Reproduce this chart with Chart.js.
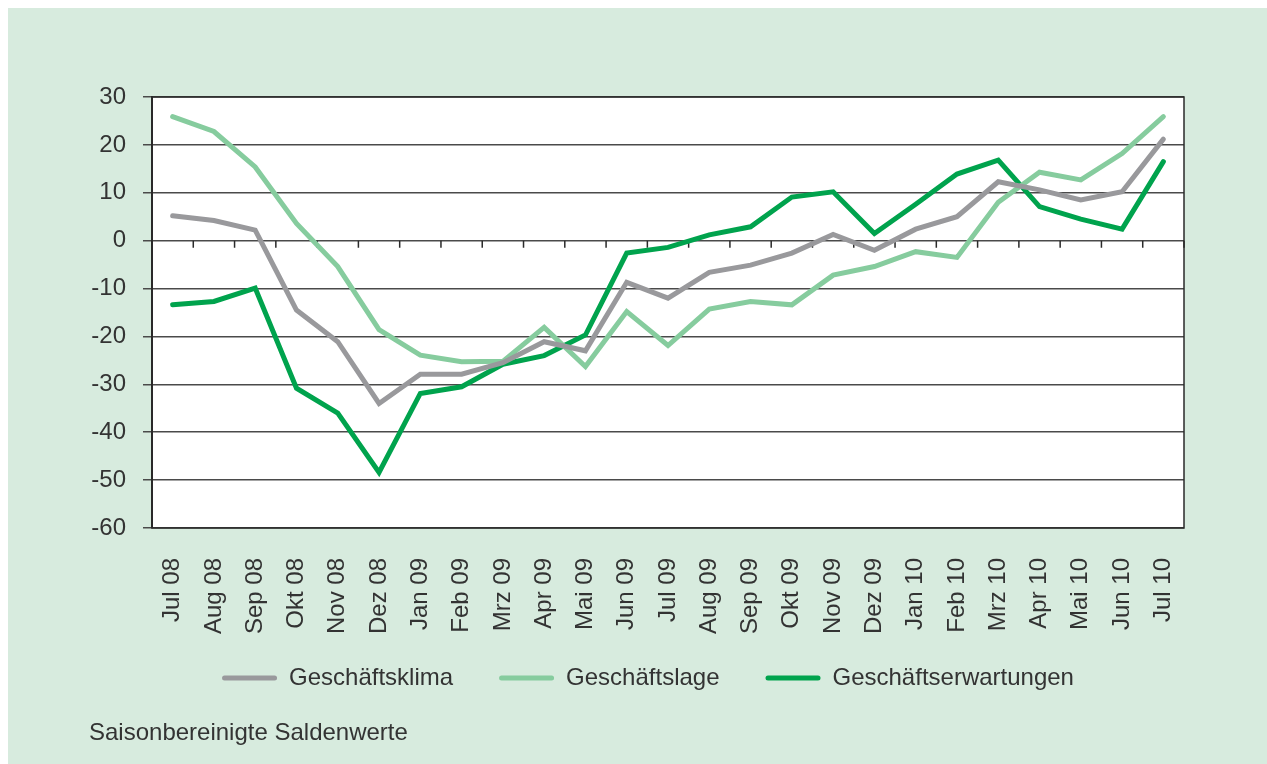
<!DOCTYPE html>
<html><head><meta charset="utf-8">
<script src="https://cdn.jsdelivr.net/npm/chart.js@4"></script>
<style>
html,body{margin:0;padding:0;background:#fff;width:1267px;height:764px;overflow:hidden;}
#panel{position:absolute;left:8px;top:8px;width:1259px;height:756px;background:#d7ebde;}
#wrap{position:absolute;left:0;top:0;width:1259px;height:756px;}
#note{position:absolute;left:81px;top:710px;font:24px "Liberation Sans",Arial,sans-serif;color:#333;line-height:28px;white-space:nowrap;}
</style></head>
<body>
<div id="panel">
  <div id="wrap"><canvas id="c" width="1259" height="756"></canvas></div>
  <div id="note">Saisonbereinigte Saldenwerte</div>
</div>
<script>
const categories = ['Jul 08','Aug 08','Sep 08','Okt 08','Nov 08','Dez 08','Jan 09','Feb 09','Mrz 09','Apr 09','Mai 09','Jun 09','Jul 09','Aug 09','Sep 09','Okt 09','Nov 09','Dez 09','Jan 10','Feb 10','Mrz 10','Apr 10','Mai 10','Jun 10','Jul 10'];
const geschaeftsklima = [5.2,4.2,2.2,-14.5,-21.1,-34,-27.9,-27.9,-25.5,-21.1,-23,-8.7,-12,-6.6,-5.1,-2.6,1.3,-2,2.4,5,12.3,10.6,8.5,10.2,21.2];
const geschaeftslage = [25.9,22.8,15.4,3.6,-5.4,-18.6,-23.9,-25.3,-25.2,-18.1,-26.3,-14.8,-21.9,-14.3,-12.7,-13.4,-7.2,-5.4,-2.3,-3.5,8,14.3,12.7,18.2,25.9];
const geschaeftserwartungen = [-13.4,-12.7,-9.9,-30.8,-36,-48.4,-31.9,-30.5,-25.8,-24,-19.7,-2.6,-1.4,1.2,2.9,9.1,10.2,1.5,7.6,13.9,16.8,7.1,4.5,2.4,16.5];
const seriesNames = ['Geschäftsklima','Geschäftslage','Geschäftserwartungen'];
const yMin = -60, yMax = 30, yStep = 10;

const FONT = '"Liberation Sans", Arial, sans-serif';
const TXT = '#333333';
const colors = ['#99999c','#86cc9e','#00a34d'];

const framePlugin = {
  id: 'framePlugin',
  beforeDraw(chart) {
    const {ctx, chartArea: a} = chart;
    ctx.save();
    ctx.fillStyle = '#ffffff';
    ctx.fillRect(a.left, a.top, a.right - a.left, a.bottom - a.top);
    ctx.restore();
    // place legend block
    if (chart.legend) {
      chart.legend.left = 104;
      chart.legend.top = 612;
    }
  },
  beforeDatasetsDraw(chart) {
    const {ctx, chartArea: a, scales} = chart;
    const xs = scales.x, ys = scales.y;
    ctx.save();
    ctx.strokeStyle = '#2a2a2a';
    ctx.lineWidth = 1.5;
    ctx.strokeRect(a.left, a.top, a.right - a.left, a.bottom - a.top);
    const y0 = ys.getPixelForValue(0);
    ctx.beginPath();
    for (let i = 1; i < categories.length; i++) {
      const x = (xs.getPixelForValue(i - 1) + xs.getPixelForValue(i)) / 2;
      ctx.moveTo(x, y0); ctx.lineTo(x, y0 + 7);
    }
    ctx.moveTo(a.right, y0); ctx.lineTo(a.right, y0 + 7);
    ctx.stroke();
    ctx.restore();
  }
};

const data = [geschaeftsklima, geschaeftslage, geschaeftserwartungen];
new Chart(document.getElementById('c'), {
  type: 'line',
  data: {
    labels: categories,
    datasets: seriesNames.map((n, i) => ({
      label: n,
      data: data[i],
      borderColor: colors[i],
      backgroundColor: colors[i],
      borderWidth: 5,
      pointRadius: 0,
      tension: 0,
      borderCapStyle: 'round',
      borderJoinStyle: 'miter',
      fill: false
    }))
  },
  options: {
    responsive: false,
    animation: false,
    layout: { padding: { left: 0, right: 83, top: 89, bottom: 44 } },
    plugins: {
      tooltip: { enabled: false },
      legend: {
        position: 'bottom',
        labels: {
          boxWidth: 55, boxHeight: 5, padding: 46, color: TXT,
          font: { size: 24, family: FONT },
          useBorderRadius: true,
          generateLabels(chart) {
            const items = Chart.defaults.plugins.legend.labels.generateLabels(chart);
            items.forEach(it => { it.lineWidth = 0; it.fillStyle = it.strokeStyle; it.borderRadius = 2.5; });
            return items;
          }
        }
      }
    },
    scales: {
      x: {
        offset: true,
        grid: { display: false, drawTicks: false },
        border: { display: false },
        ticks: { autoSkip: false, minRotation: 90, maxRotation: 90, padding: 30, color: TXT, font: { size: 24, family: FONT } },
        afterFit(s) { s.height = 112; }
      },
      y: {
        min: yMin, max: yMax,
        ticks: { stepSize: yStep, padding: 17, color: TXT, font: { size: 24, family: FONT } },
        grid: { color: '#4a4a4a', lineWidth: 1.5, tickLength: 9, drawTicks: true },
        border: { display: true, color: '#2a2a2a', width: 2 },
        afterFit(s) { s.width = 144; }
      }
    }
  },
  plugins: [framePlugin]
});
</script>
</body></html>
